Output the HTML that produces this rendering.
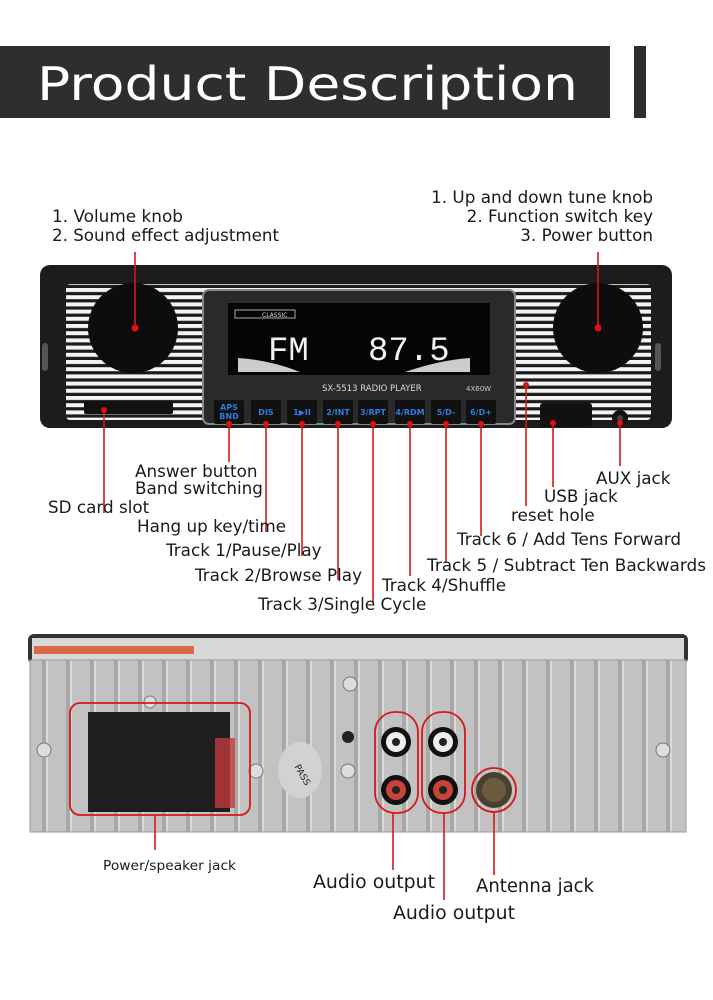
<!DOCTYPE html>
<html><head><meta charset="utf-8"><style>
html,body{margin:0;padding:0;background:#fff;}
svg{display:block;}
text{font-family:"DejaVu Sans","Liberation Sans",sans-serif;fill:#1a1a1a;}
</style></head><body>
<svg width="713" height="1000" viewBox="0 0 713 1000" xmlns="http://www.w3.org/2000/svg">
<defs>
<pattern id="str" width="10" height="7.2" patternUnits="userSpaceOnUse">
<rect width="10" height="7.2" fill="#f4f4f4"/><rect y="4" width="10" height="3.2" fill="#1a1a1a"/>
</pattern>
<pattern id="fins" width="24" height="10" patternUnits="userSpaceOnUse">
<rect width="24" height="10" fill="#c2c2c2"/><rect x="18" width="4" height="10" fill="#a8a8a8"/><rect x="22" width="2" height="10" fill="#dadada"/>
</pattern>
</defs>

<rect x="0" y="46" width="610" height="72" fill="#2e2e2e"/>
<rect x="634" y="46" width="12" height="72" fill="#2e2e2e"/>
<text x="37" y="100" font-size="46" textLength="541" lengthAdjust="spacingAndGlyphs" style="fill:#fff">Product Description</text>

<g font-size="16.8">
<text x="52" y="222" textLength="131" lengthAdjust="spacingAndGlyphs">1. Volume knob</text>
<text x="52" y="241" textLength="227" lengthAdjust="spacingAndGlyphs">2. Sound effect adjustment</text>
<text x="653" y="203" text-anchor="end">1. Up and down tune knob</text>
<text x="653" y="222" text-anchor="end">2. Function switch key</text>
<text x="653" y="241" text-anchor="end">3. Power button</text>
</g>

<rect x="40" y="265" width="632" height="163" rx="10" fill="#1c1c1c"/>
<rect x="66" y="284" width="585" height="136" rx="4" fill="url(#str)"/>
<rect x="42" y="343" width="6" height="28" rx="3" fill="#555"/>
<rect x="655" y="343" width="6" height="28" rx="3" fill="#555"/>
<circle cx="133" cy="328" r="45" fill="#0d0d0d"/>
<circle cx="598" cy="328" r="45" fill="#0d0d0d"/>
<rect x="84" y="401" width="89" height="13" rx="2" fill="#111"/>
<rect x="540" y="403" width="52" height="24" rx="3" fill="#111"/>
<circle cx="620" cy="418" r="8" fill="#111"/><circle cx="620" cy="418" r="3" fill="#444"/>
<rect x="203" y="290" width="312" height="134" rx="6" fill="#2a2a2a" stroke="#888" stroke-width="2"/>
<rect x="228" y="303" width="262" height="72" fill="#050505"/>
<rect x="235" y="310" width="60" height="8" fill="none" stroke="#aaa" stroke-width="1"/>
<text x="262" y="317" font-size="6" style="fill:#ddd">CLASSIC</text>
<text x="268" y="360" font-size="34" style="fill:#f2f2f2;font-family:'Liberation Mono',monospace">FM</text>
<text x="368" y="360" font-size="34" style="fill:#f2f2f2;font-family:'Liberation Mono',monospace">87.5</text>
<path d="M238 372 L238 358 Q270 360 300 372 Z" fill="#ccc"/>
<path d="M470 372 L470 358 Q440 360 405 372 Z" fill="#ccc"/>
<text x="322" y="391" font-size="8.5" style="fill:#ddd">SX-5513  RADIO PLAYER</text>
<text x="466" y="391" font-size="7" style="fill:#ccc">4X60W</text>
<g font-size="8" font-weight="bold" text-anchor="middle">
<rect x="214" y="400" width="30" height="24" fill="#111" rx="2"/><text x="229" y="410" style="fill:#2e7ce0">APS</text><text x="229" y="419" style="fill:#2e7ce0">BND</text>
<rect x="251" y="400" width="30" height="24" fill="#111" rx="2"/><text x="266" y="415" style="fill:#2e7ce0">DIS</text>
<rect x="287" y="400" width="30" height="24" fill="#111" rx="2"/><text x="302" y="415" style="fill:#2e7ce0">1▶II</text>
<rect x="323" y="400" width="30" height="24" fill="#111" rx="2"/><text x="338" y="415" style="fill:#2e7ce0">2/INT</text>
<rect x="358" y="400" width="30" height="24" fill="#111" rx="2"/><text x="373" y="415" style="fill:#2e7ce0">3/RPT</text>
<rect x="395" y="400" width="30" height="24" fill="#111" rx="2"/><text x="410" y="415" style="fill:#2e7ce0">4/RDM</text>
<rect x="431" y="400" width="30" height="24" fill="#111" rx="2"/><text x="446" y="415" style="fill:#2e7ce0">5/D-</text>
<rect x="466" y="400" width="30" height="24" fill="#111" rx="2"/><text x="481" y="415" style="fill:#2e7ce0">6/D+</text>
</g>

<g stroke="#d81818" stroke-width="1.6">
<line x1="135" y1="252" x2="135" y2="328"/>
<line x1="598" y1="252" x2="598" y2="328"/>
<line x1="104" y1="410" x2="104" y2="513"/>
<line x1="229" y1="424" x2="229" y2="462"/>
<line x1="266" y1="424" x2="266" y2="532"/>
<line x1="302" y1="424" x2="302" y2="556"/>
<line x1="338" y1="424" x2="338" y2="580"/>
<line x1="373" y1="424" x2="373" y2="603"/>
<line x1="410" y1="424" x2="410" y2="576"/>
<line x1="446" y1="424" x2="446" y2="562"/>
<line x1="481" y1="424" x2="481" y2="536"/>
<line x1="526" y1="385" x2="526" y2="506"/>
<line x1="553" y1="423" x2="553" y2="487"/>
<line x1="620" y1="423" x2="620" y2="466"/>
</g>
<g fill="#e01010">
<circle cx="135" cy="328" r="3.5"/><circle cx="598" cy="328" r="3.5"/>
<circle cx="104" cy="410" r="3"/><circle cx="229" cy="424" r="3"/><circle cx="266" cy="424" r="3"/>
<circle cx="302" cy="424" r="3"/><circle cx="338" cy="424" r="3"/><circle cx="373" cy="424" r="3"/>
<circle cx="410" cy="424" r="3"/><circle cx="446" cy="424" r="3"/><circle cx="481" cy="424" r="3"/>
<circle cx="526" cy="385" r="3"/><circle cx="553" cy="423" r="3"/><circle cx="620" cy="423" r="3"/>
</g>

<g font-size="16.8">
<text x="135" y="477">Answer button</text>
<text x="135" y="494">Band switching</text>
<text x="48" y="513">SD card slot</text>
<text x="137" y="532">Hang up key/time</text>
<text x="166" y="556">Track 1/Pause/Play</text>
<text x="195" y="581">Track 2/Browse Play</text>
<text x="258" y="610">Track 3/Single Cycle</text>
<text x="382" y="591">Track 4/Shuffle</text>
<text x="427" y="571" textLength="279" lengthAdjust="spacingAndGlyphs">Track 5 / Subtract Ten Backwards</text>
<text x="457" y="545">Track 6 / Add Tens Forward</text>
<text x="511" y="521">reset hole</text>
<text x="544" y="502">USB jack</text>
<text x="596" y="484">AUX jack</text>
</g>

<rect x="28" y="634" width="660" height="30" rx="6" fill="#333"/>
<rect x="32" y="638" width="652" height="22" fill="#d8d8d8"/>
<rect x="34" y="646" width="160" height="8" fill="#d86a4a"/>
<rect x="30" y="660" width="656" height="172" fill="url(#fins)"/>
<rect x="30" y="660" width="656" height="172" fill="none" stroke="#999"/>
<rect x="88" y="712" width="142" height="100" fill="#1e1e1e"/>
<rect x="215" y="738" width="20" height="70" fill="#c23a3a" opacity="0.8"/>
<ellipse cx="300" cy="770" rx="22" ry="28" fill="#d2d2d2"/>
<text x="290" y="770" font-size="9" transform="rotate(60 295 772)">PASS</text>
<circle cx="348" cy="737" r="6" fill="#222"/>
<g>
<circle cx="396" cy="742" r="15" fill="#111"/><circle cx="396" cy="742" r="10" fill="#eee"/><circle cx="396" cy="742" r="4" fill="#222"/>
<circle cx="396" cy="790" r="15" fill="#111"/><circle cx="396" cy="790" r="10" fill="#c9433a"/><circle cx="396" cy="790" r="4" fill="#222"/>
<circle cx="443" cy="742" r="15" fill="#111"/><circle cx="443" cy="742" r="10" fill="#eee"/><circle cx="443" cy="742" r="4" fill="#222"/>
<circle cx="443" cy="790" r="15" fill="#111"/><circle cx="443" cy="790" r="10" fill="#c9433a"/><circle cx="443" cy="790" r="4" fill="#222"/>
<circle cx="494" cy="790" r="18" fill="#4a4030"/><circle cx="494" cy="790" r="12" fill="#6b5c40"/>
</g>
<g fill="#ddd" stroke="#777">
<circle cx="44" cy="750" r="7"/><circle cx="663" cy="750" r="7"/><circle cx="350" cy="684" r="7"/>
<circle cx="256" cy="771" r="7"/><circle cx="348" cy="771" r="7"/><circle cx="150" cy="702" r="6"/>
</g>
<g fill="none" stroke="#d81818" stroke-width="1.8">
<rect x="70" y="703" width="180" height="112" rx="10"/>
<rect x="375" y="712" width="43" height="101" rx="20"/>
<rect x="422" y="712" width="43" height="101" rx="20"/>
<circle cx="494" cy="790" r="22"/>
</g>
<g stroke="#d81818" stroke-width="1.6">
<line x1="155" y1="815" x2="155" y2="850"/>
<line x1="393" y1="813" x2="393" y2="870"/>
<line x1="444" y1="813" x2="444" y2="900"/>
<line x1="494" y1="812" x2="494" y2="875"/>
</g>
<text x="103" y="870" font-size="13.5" textLength="133" lengthAdjust="spacingAndGlyphs">Power/speaker jack</text>
<text x="313" y="888" font-size="18.5" textLength="122" lengthAdjust="spacingAndGlyphs">Audio output</text>
<text x="476" y="892" font-size="18.5" textLength="118" lengthAdjust="spacingAndGlyphs">Antenna jack</text>
<text x="393" y="919" font-size="18.5" textLength="122" lengthAdjust="spacingAndGlyphs">Audio output</text>
</svg>
</body></html>
